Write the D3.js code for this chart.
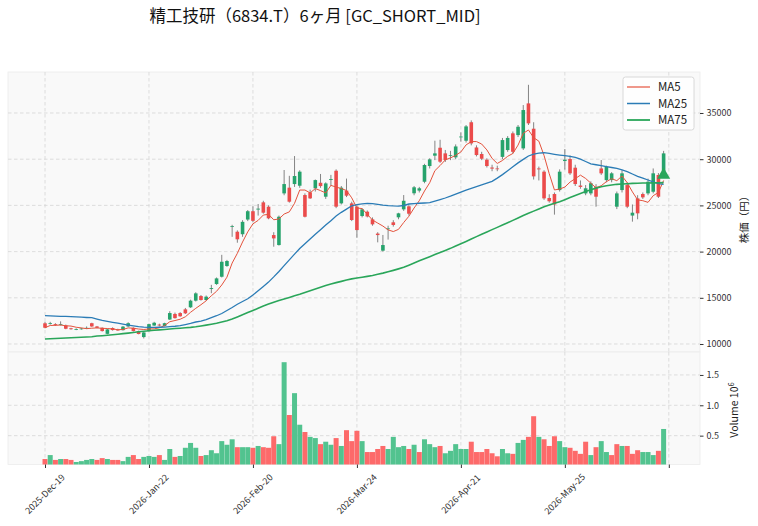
<!DOCTYPE html>
<html>
<head>
<meta charset="utf-8">
<script src="https://cdn.jsdelivr.net/npm/d3@7"></script>
<style>
body{margin:0;background:#fff;}
text{font-family:"Noto Sans CJK JP","Noto Sans",sans-serif;}
</style>
</head>
<body>
<svg id="chart" width="758" height="526"></svg>
<script>
// daily candles, index 0 = 2025-12-19
var opens  = [12240,12200,12150,12100,12000,11700,11600,11640,11700,12250, 11900,11750,11100,11730,11550,11500,11900,11750,11400,10750,
              11400,12000,12100,11950,12650,13250,13350,13750,13970,14690, 15190,14760,15950,16490,17280,18440,22700,22150,21880,23470,
              24370,24550,25330,24860,21790,20710,26300,26920,27310,27130, 26120,26410,26850,27450,25940,27750,28750,25220,26600,25220,
              24860,23850,24320,23490,21950,20100,22450,23170,23710,24570, 24900,26310,26600,27560,29260,30380,31240,30630,30400,30200,
              32400,32000,34000,31270,30560,29950,29100,29000,30250,30990, 32800,32610,31170,36040,33300,29000,28650,25800,26230,26660,
              29800,30020,29080,27150,26300,26300,27020,29000,27740,27740, 24860,26660,27200,23900,25760,26230,26300,26480,28290,28650];
var highs  = [12400,12400,12250,12450,12100,11750,11700,11750,11900,12300, 11950,11800,11650,11800,11650,11950,12350,11800,11450,11300,
              12200,12400,12200,12300,13550,13400,13450,13900,14800,15600, 15300,15250,16400,17200,19650,19100,22900,22300,23400,24500,
              24900,25150,25500,25000,22100,23900,28830,28200,30340,28800, 26300,26700,27800,28400,27500,28300,28900,27100,27900,25400,
              25000,24700,24450,23700,22100,21800,22800,23400,24200,26120, 25100,27100,27000,29500,30100,32000,32100,31000,30900,31600,
              32900,33700,34200,31500,30800,30100,29400,29300,32300,32500, 33000,33700,35860,38050,34000,29200,28800,26200,26400,28900,
              31100,30400,29400,27700,27200,27600,27300,29910,29300,28600, 26500,28800,27500,25100,26100,26400,27900,29000,28500,30900];
var lows   = [11700,12100,11950,12000,11600,11550,11500,11550,11650,11850, 11700,11350,11050,11450,11450,11450,11850,11350,11050,10600,
              11350,11950,11900,11900,12600,12750,12950,13250,13900,14600, 14700,14700,15500,16400,17200,18350,21600,20960,21600,23300,
              23200,23900,24100,23500,20530,20650,26100,25300,27000,26900, 23700,25700,26500,26900,25700,27100,24700,25100,25900,23300,
              21500,23700,23700,22800,21000,20000,21300,22700,23500,24400, 23900,26100,26400,27400,29000,29900,29600,29700,29900,30000,
              31900,31800,31500,30300,29900,29100,28700,28700,30000,30800, 30600,32400,31000,33700,27800,27700,25600,25300,24000,26500,
              28870,28300,27100,26800,26100,26100,24860,28300,27500,27500, 24600,26400,24700,23240,23500,25700,26100,26300,25800,28400];
var closes = [11760,12250,12050,12150,11650,11600,11620,11680,11750,11900, 11750,11400,11580,11510,11490,11880,12250,11400,11080,11250,
              12150,12300,12000,12250,13350,12800,13000,13320,14690,15480, 14760,15120,16050,17100,18900,18980,22770,21330,23220,24370,
              23330,24650,24210,23600,21430,23770,27310,25400,28180,28650, 23770,25760,27740,27090,27380,27850,24860,26920,26050,23420,
              22330,24570,23800,22950,21790,20710,22510,22880,24140,25500, 24100,26960,26850,29370,29980,30630,29730,29910,30450,31380,
              32450,33550,31710,30450,30050,29260,28980,28950,32070,32300, 30800,33510,35320,33880,28140,28900,25760,25450,25100,28650,
              29950,28470,27310,27000,26850,27400,25940,28470,29190,28470, 26300,28470,24860,24210,24140,25870,27560,28470,25940,30630];
var volumes = [115000,180000,100000,115000,115000,100000,66000,80000,100000,115000, 100000,130000,115000,100000,100000,80000,150000,180000,115000,150000,
               165000,150000,180000,100000,280000,150000,165000,300000,380000,300000, 165000,180000,260000,210000,410000,350000,440000,310000,310000,310000,
               300000,330000,310000,300000,490000,360000,1710000,840000,1200000,680000, 560000,480000,460000,360000,400000,350000,460000,330000,590000,410000,
               580000,410000,230000,230000,280000,330000,280000,480000,310000,330000, 280000,350000,230000,440000,360000,310000,330000,210000,250000,360000,
               280000,280000,400000,230000,230000,280000,210000,160000,280000,210000, 200000,380000,430000,480000,820000,480000,440000,330000,490000,410000,
               310000,300000,250000,200000,400000,180000,310000,410000,230000,180000, 360000,330000,330000,200000,260000,230000,230000,180000,250000,610000];
var ma25 = [13060,13040,13020,13000,12980,12960,12930,12900,12870,12850, 12700,12560,12450,12350,12260,12150,12050,11960,11880,11820,
            11800,11800,11810,11830,11880,11920,11980,12100,12230,12380, 12480,12650,12850,13060,13300,13620,13950,14300,14600,14900,
            15300,15760,16230,16700,17260,17850,18480,19100,19720,20340, 20850,21360,21870,22370,22870,23350,23850,24250,24600,24960,
            25080,25160,25210,25200,25120,25040,24980,24940,24930,24990, 25150,25190,25230,25260,25290,25450,25620,25800,26000,26220,
            26440,26660,26850,27030,27210,27400,27600,27950,28330,28750, 29180,29600,29980,30350,30550,30650,30700,30620,30530,30450,
            30380,30300,30200,30000,29750,29500,29400,29300,29200,29100, 29000,28850,28650,28400,28150,27950,27750,27550,27350,27280];
var ma75 = [10540,10560,10590,10620,10650,10680,10700,10730,10760,10790, 10860,10900,10950,11000,11060,11120,11180,11250,11320,11380,
            11440,11480,11530,11570,11620,11670,11710,11760,11800,11860, 11950,12040,12140,12250,12380,12520,12700,12930,13160,13400,
            13630,13860,14100,14320,14530,14700,14870,15040,15210,15380, 15570,15760,15950,16140,16330,16500,16640,16780,16920,17050,
            17140,17230,17320,17420,17540,17670,17820,17970,18130,18300, 18530,18760,19000,19230,19450,19680,19900,20120,20350,20600,
            20850,21100,21360,21620,21880,22130,22380,22620,22870,23120, 23380,23640,23900,24140,24380,24620,24850,25050,25230,25400,
            25620,25850,26080,26300,26500,26700,26870,27020,27120,27200, 27280,27320,27350,27380,27400,27420,27430,27440,27450,27460];
var tickIdx = [0,20,40,60,80,100,120];
var tickLabels = ["2025-Dec-19","2026-Jan-22","2026-Feb-20","2026-Mar-24","2026-Apr-21","2026-May-25",""];
var priceTicks = [10000,15000,20000,25000,30000,35000];
var volTicks = [500000,1000000,1500000];
var signalIdx = 119, signalPrice = 28400;

var upC = "#26a36c", downC = "#eb4b4b";
var vUp = "#52c38f", vDown = "#fd6a6a";
var maColors = {MA5:"#e4533d", MA25:"#2b7cb6", MA75:"#2aa65a"};

// MA5 from closes
var ma5 = closes.map(function(c,i){
  var s = closes.slice(Math.max(0,i-4), i+1);
  return d3.mean(s);
});

var svg = d3.select("#chart");
var L=8, R=700, pTop=72, pBot=352, vTop=352, vBot=464.5;

var x = d3.scaleLinear().domain([-7.12,126]).range([L,R]);
var y = d3.scaleLinear().domain([9134,39437]).range([pBot,pTop]);
var yv = d3.scaleLinear().domain([24700,1878000]).range([vBot,vTop]);

svg.append("text").attr("x",315).attr("y",22).attr("text-anchor","middle")
  .attr("font-size",16.5).attr("fill","#111").text("精工技研（6834.T）6ヶ月 [GC_SHORT_MID]");

svg.append("rect").attr("x",L).attr("y",pTop).attr("width",R-L).attr("height",pBot-pTop)
  .attr("fill","#f9f9f9").attr("stroke","#ececec").attr("stroke-width",0.8);
svg.append("rect").attr("x",L).attr("y",vTop).attr("width",R-L).attr("height",vBot-vTop)
  .attr("fill","#f9f9f9").attr("stroke","#ececec").attr("stroke-width",0.8);

var grid = svg.append("g").attr("stroke","#d6d6d6").attr("stroke-width",0.8).attr("stroke-dasharray","3.5,2.5");
grid.selectAll(".hp").data(priceTicks).enter().append("line")
  .attr("x1",L).attr("x2",R).attr("y1",function(d){return y(d);}).attr("y2",function(d){return y(d);});
grid.selectAll(".hv").data(volTicks).enter().append("line")
  .attr("x1",L).attr("x2",R).attr("y1",function(d){return yv(d);}).attr("y2",function(d){return yv(d);});
grid.selectAll(".vx").data(tickIdx).enter().append("line")
  .attr("x1",function(d){return x(d);}).attr("x2",function(d){return x(d);}).attr("y1",pTop).attr("y2",pBot);
grid.selectAll(".vx2").data(tickIdx).enter().append("line")
  .attr("x1",function(d){return x(d);}).attr("x2",function(d){return x(d);}).attr("y1",vTop).attr("y2",vBot);

// volume
var bw = 5.0;
svg.append("g").selectAll("rect").data(volumes).enter().append("rect")
  .attr("x",function(d,i){return x(i)-bw/2;}).attr("width",bw)
  .attr("y",function(d){return yv(d);}).attr("height",function(d){return vBot-yv(d);})
  .attr("fill",function(d,i){
    var prev = i>0 ? closes[i-1] : opens[i];
    return closes[i]>=prev ? vUp : vDown;
  });

// candles
var cg = svg.append("g");
var cw = 3.6;
closes.forEach(function(c,i){
  var up = c>=opens[i];
  var col = up?upC:downC;
  cg.append("line").attr("x1",x(i)).attr("x2",x(i)).attr("y1",y(highs[i])).attr("y2",y(lows[i]))
    .attr("stroke","#666").attr("stroke-width",0.8);
  var top = y(Math.max(c,opens[i])), bot = y(Math.min(c,opens[i]));
  cg.append("rect").attr("x",x(i)-cw/2).attr("width",cw).attr("y",top).attr("height",Math.max(0.8,bot-top))
    .attr("fill",col);
});

// moving averages
function drawMA(arr,color,w){
  svg.append("path").datum(arr).attr("fill","none").attr("stroke",color).attr("stroke-width",w)
    .attr("d",d3.line().x(function(d,i){return x(i);}).y(function(d){return y(d);}));
}
drawMA(ma5,maColors.MA5,1.0);
drawMA(ma25,maColors.MA25,1.3);
drawMA(ma75,maColors.MA75,1.6);

// signal marker
svg.append("path").attr("d",d3.symbol().type(d3.symbolTriangle).size(75)())
  .attr("transform","translate("+x(signalIdx)+","+(y(signalPrice)+1)+")").attr("fill","#2aa65a");

// right axes
var ya = svg.append("g").attr("transform","translate("+R+",0)")
  .call(d3.axisRight(y).tickValues(priceTicks).tickSize(3.5).tickPadding(3).tickFormat(d3.format("d")));
var yva = svg.append("g").attr("transform","translate("+R+",0)")
  .call(d3.axisRight(yv).tickValues(volTicks).tickSize(3.5).tickPadding(3).tickFormat(function(d){return (d/1e6).toFixed(1);}));
[ya,yva].forEach(function(g){
  g.select(".domain").remove();
  g.selectAll("text").attr("font-size",9).attr("fill","#333").style("font-family","'Noto Sans CJK JP','Noto Sans',sans-serif");
  g.selectAll("line").attr("stroke","#333");
});

var xa = svg.append("g").attr("transform","translate(0,"+vBot+")")
  .call(d3.axisBottom(x).tickValues(tickIdx).tickSize(3.5).tickFormat(function(d,i){return tickLabels[i];}));
xa.select(".domain").remove();
xa.selectAll("line").attr("stroke","#333");
xa.selectAll("text").attr("font-size",9).attr("fill","#333").attr("text-anchor","middle")
  .attr("dy",null).attr("y",null)
  .attr("transform","translate(0,30) rotate(-45)")
  .attr("dominant-baseline","middle")
  .style("font-family","'Noto Sans CJK JP','Noto Sans',sans-serif");

svg.append("text").attr("transform","translate(748,217) rotate(-90)").attr("text-anchor","middle")
  .attr("font-size",10.5).attr("fill","#222").text("株価（円）");
var vl = svg.append("text").attr("transform","translate(738,410) rotate(-90)").attr("text-anchor","middle")
  .attr("font-size",10.5).attr("fill","#222");
vl.append("tspan").text("Volume  10");
vl.append("tspan").attr("dy",-4).attr("font-size",7.5).text("6");

// legend
var lg = svg.append("g").attr("transform","translate(623,77)");
lg.append("rect").attr("width",71).attr("height",53).attr("rx",2.5)
  .attr("fill","#fff").attr("fill-opacity",0.85).attr("stroke","#d0d0d0").attr("stroke-width",0.8);
var names = ["MA5","MA25","MA75"], widths=[1.0,1.3,1.6];
names.forEach(function(n,i){
  var yy = 10 + i*16.5;
  lg.append("line").attr("x1",4).attr("x2",27).attr("y1",yy).attr("y2",yy)
    .attr("stroke",maColors[n]).attr("stroke-width",widths[i]+0.2);
  lg.append("text").attr("x",35).attr("y",yy+4).attr("font-size",11.5).attr("fill","#222").text(n);
});
</script>
</body>
</html>
